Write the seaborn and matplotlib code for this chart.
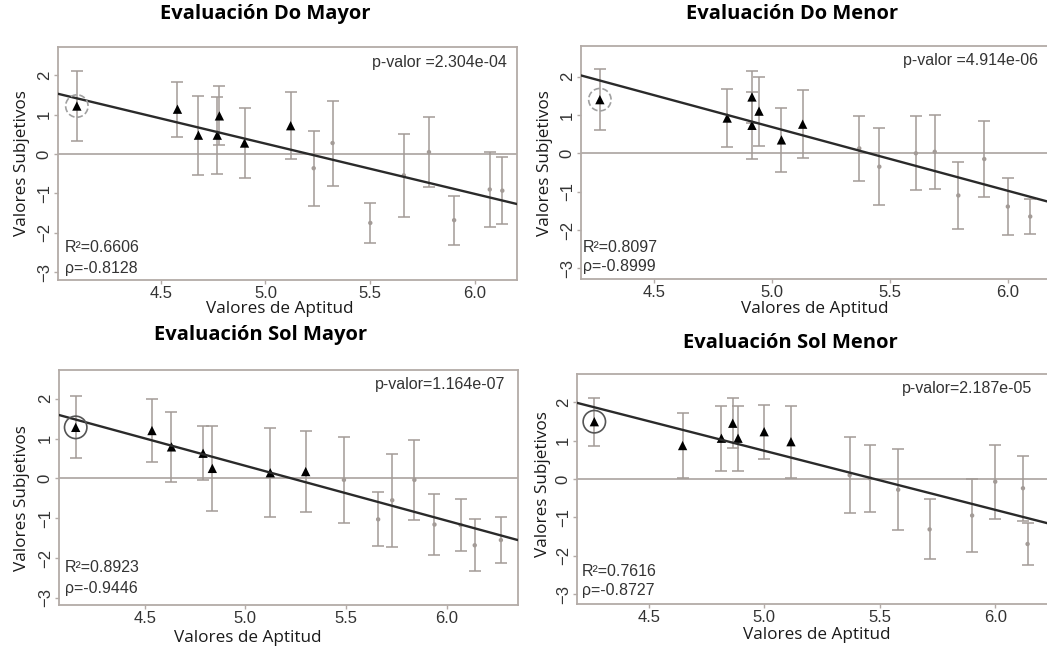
import numpy as np
import pandas as pd
import matplotlib.pyplot as plt
import seaborn as sns

# ------------------------------------------------------------
# Datos (15 puntos por panel)
# los 7 primeros puntos van con triángulo negro, los 8 restantes con punto gris
# ------------------------------------------------------------
grupo = ['triangulo'] * 7 + ['punto'] * 8

do_mayor_x = [4.10, 4.58, 4.68, 4.77, 4.78, 4.90, 5.12, 5.23, 5.32, 5.50, 5.66, 5.78, 5.90, 6.07, 6.13]
do_mayor_y = [1.22, 1.14, 0.48, 0.48, 0.97, 0.28, 0.72, -0.36, 0.28, -1.75, -0.54, 0.05, -1.68, -0.90, -0.93]
do_mayor_err = [0.88, 0.70, 1.00, 0.98, 0.75, 0.90, 0.85, 0.95, 1.08, 0.50, 1.05, 0.88, 0.62, 0.95, 0.85]

do_menor_x = [4.27, 4.81, 4.915, 4.915, 4.945, 5.04, 5.13, 5.37, 5.455, 5.61, 5.69, 5.79, 5.90, 6.00, 6.095]
do_menor_y = [1.40, 0.92, 1.47, 0.73, 1.10, 0.35, 0.76, 0.13, -0.35, 0.00, 0.04, -1.10, -0.15, -1.39, -1.65]
do_menor_err = [0.80, 0.76, 0.68, 0.88, 0.90, 0.84, 0.88, 0.84, 1.00, 0.97, 0.97, 0.87, 1.00, 0.74, 0.46]

sol_mayor_x = [4.157, 4.536, 4.633, 4.79, 4.836, 5.124, 5.30, 5.49, 5.66, 5.73, 5.84, 5.94, 6.07, 6.14, 6.27]
sol_mayor_y = [1.28, 1.20, 0.79, 0.63, 0.25, 0.14, 0.17, -0.04, -1.03, -0.55, -0.04, -1.16, -1.17, -1.68, -1.55]
sol_mayor_err = [0.78, 0.80, 0.88, 0.68, 1.07, 1.12, 1.02, 1.07, 0.68, 1.17, 1.00, 0.77, 0.65, 0.65, 0.58]

sol_menor_x = [4.265, 4.647, 4.815, 4.864, 4.887, 5.00, 5.116, 5.37, 5.457, 5.58, 5.716, 5.90, 6.00, 6.12, 6.14]
sol_menor_y = [1.49, 0.87, 1.06, 1.45, 1.06, 1.23, 0.97, 0.10, 0.02, -0.28, -1.31, -0.95, -0.07, -0.24, -1.69]
sol_menor_err = [0.62, 0.85, 0.85, 0.65, 0.84, 0.70, 0.94, 0.99, 0.87, 1.05, 0.78, 0.96, 0.96, 0.84, 0.55]

# recta de regresión (pendiente, ordenada) y estadísticos
titulos = ['Evaluación Do Mayor', 'Evaluación Do Menor', 'Evaluación Sol Mayor', 'Evaluación Sol Menor']
pendientes = [-1.279, -1.663, -1.377, -1.537]
ordenadas = [6.66, 9.00, 7.20, 8.42]
p_valores = ['p-valor =2.304e-04', 'p-valor =4.914e-06', 'p-valor=1.164e-07', 'p-valor=2.187e-05']
r2_textos = ['R²=0.6606', 'R²=0.8097', 'R²=0.8923', 'R²=0.7616']
rho_textos = ['ρ=-0.8128', 'ρ=-0.8999', 'ρ=-0.9446', 'ρ=-0.8727']

x_ticks = [4.5, 5.0, 5.5, 6.0]
y_ticks = [-3, -2, -1, 0, 1, 2]

# ------------------------------------------------------------
sns.set_theme(style='white')
plt.rcParams['font.family'] = ['Liberation Sans', 'DejaVu Sans']
TITLE_FONT = ['Open Sans', 'DejaVu Sans']

GRIS = '#a39b97'
MARCO = '#b3aba7'
W, H = 1047, 647

fig = plt.figure(figsize=(W / 100, H / 100), dpi=100)


def rect(l, t, r, b):
    return [l / W, 1 - b / H, (r - l) / W, (b - t) / H]


def ftext(x, y, s, **kw):
    fig.text(x / W, 1 - y / H, s, **kw)


paneles = [
    dict(x=do_mayor_x, y=do_mayor_y, err=do_mayor_err, box=(58, 47, 517, 280),
         xlim=(4.01, 6.2), ylim=(-3.2, 2.72), circ='--'),
    dict(x=do_menor_x, y=do_menor_y, err=do_menor_err, box=(581, 46, 1055, 279),
         xlim=(4.19, 6.2), ylim=(-3.28, 2.8), circ='--'),
    dict(x=sol_mayor_x, y=sol_mayor_y, err=sol_mayor_err, box=(59, 370, 518, 605),
         xlim=(4.074, 6.355), ylim=(-3.18, 2.72), circ='-'),
    dict(x=sol_menor_x, y=sol_menor_y, err=sol_menor_err, box=(577, 374, 1053, 604),
         xlim=(4.19, 6.25), ylim=(-3.25, 2.73), circ='-'),
]

# posiciones de textos en píxeles de la figura
titulo_pos = [(265, 14), (792, 14), (261, 335), (790, 343)]
xlab_pos = [(280, 313), (815, 313), (248, 642), (817, 639)]
ylab_pos = [(22, 163), (545, 163), (22, 498), (543, 484)]
pval_pos = [(507, 63), (1038, 61), (505, 385), (1032, 388)]
r2_pos = [(65, 247), (583, 247), (65, 567), (582, 571)]
rho_pos = [(65, 269), (583, 267), (65, 589), (582, 590)]

for i, p in enumerate(paneles):
    ax = fig.add_axes(rect(*p['box']))
    df = pd.DataFrame({'aptitud': p['x'], 'subjetivo': p['y'], 'err': p['err'], 'grupo': grupo})

    ax.axhline(0, color=GRIS, lw=1.1, zorder=1)
    ax.errorbar(df['aptitud'], df['subjetivo'], yerr=df['err'], fmt='none',
                ecolor=GRIS, elinewidth=1.1, capsize=4, capthick=1.1, zorder=2)
    sns.scatterplot(data=df[df['grupo'] == 'punto'], x='aptitud', y='subjetivo',
                    marker='o', s=10, color=GRIS, edgecolor='none', ax=ax, zorder=3)
    sns.scatterplot(data=df[df['grupo'] == 'triangulo'], x='aptitud', y='subjetivo',
                    marker='^', s=45, color='black', edgecolor='none', ax=ax, zorder=4)
    ax.axline((0, ordenadas[i]), slope=pendientes[i], color='#2a2a2a', lw=1.7, zorder=5)

    # círculo alrededor del primer punto
    ax.scatter(df['aptitud'].iloc[:1], df['subjetivo'].iloc[:1], s=260, facecolors='none',
               edgecolors='#555555' if p['circ'] == '-' else '#a0a0a0',
               linestyle=p['circ'], linewidths=1.2, zorder=6)

    ax.set_xlim(*p['xlim'])
    ax.set_ylim(*p['ylim'])
    ax.set_xticks(x_ticks)
    ax.set_xticklabels([f'{v:.1f}' for v in x_ticks])
    ax.set_yticks(y_ticks)
    ax.set_yticklabels([str(v).replace('-', '\u2212') for v in y_ticks],
                       rotation=90, va='center')
    ax.tick_params(axis='both', bottom=True, left=True, direction='out', length=3,
                   width=1, color=MARCO, labelsize=12, labelcolor='#333333', pad=1.5)
    ax.set_xlabel('')
    ax.set_ylabel('')
    for s in ax.spines.values():
        s.set_color(MARCO)
        s.set_linewidth(1.3)

    ftext(*titulo_pos[i], titulos[i], family=TITLE_FONT, weight='bold', fontsize=14.5,
          ha='center', va='center', color='black')
    ftext(*xlab_pos[i], 'Valores de Aptitud', family=TITLE_FONT, fontsize=12.3,
          ha='center', va='baseline', color='#1a1a1a')
    ftext(*ylab_pos[i], 'Valores Subjetivos', family=TITLE_FONT, fontsize=12.3,
          ha='center', va='center', rotation=90, color='#1a1a1a')
    ftext(*pval_pos[i], p_valores[i], fontsize=11.5, ha='right', va='center', color='#333333')
    ftext(*r2_pos[i], r2_textos[i], fontsize=11.5, ha='left', va='center', color='#333333')
    ftext(*rho_pos[i], rho_textos[i], fontsize=11.5, ha='left', va='center', color='#333333')

fig.savefig('out.png', dpi=100)
